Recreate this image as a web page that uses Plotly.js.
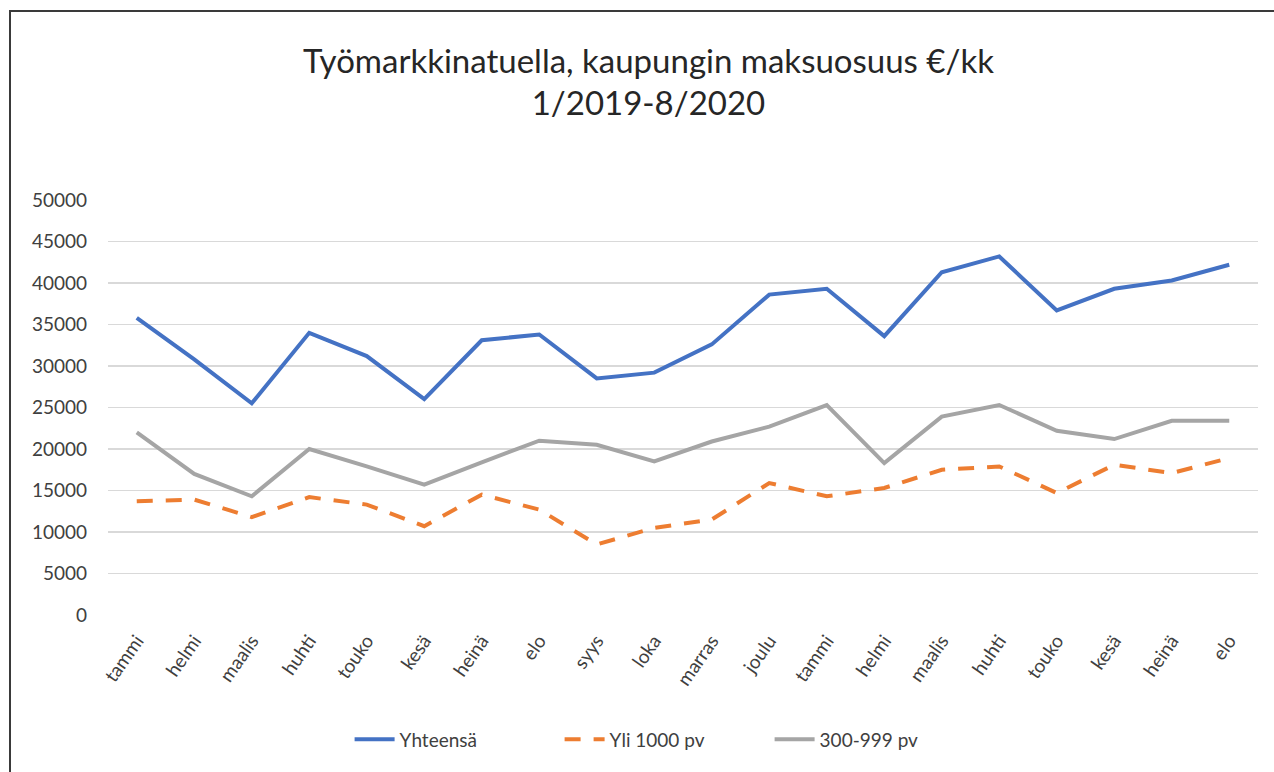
<!DOCTYPE html>
<html>
<head>
<meta charset="utf-8">
<script src="https://cdn.plot.ly/plotly-3.0.1.min.js"></script>
<style>
  html, body { margin: 0; padding: 0; background: #fff; overflow: hidden; }
  #chart { position: absolute; left: 0; top: 0; width: 1274px; height: 772px; }
  #frame {
    position: absolute; left: 9px; top: 10px; width: 1300px; height: 800px;
    border-left: 2px solid #3a3a3a; border-top: 2px solid #3a3a3a;
    pointer-events: none;
  }
</style>
</head>
<body>
<div id="chart"></div>
<div id="frame"></div>
<script>
// ==================== DATA ====================

// month labels, 1/2019 - 8/2020 (names repeat, so ticks are placed by index)
const months = ['tammi', 'helmi', 'maalis', 'huhti', 'touko', 'kesä', 'heinä', 'elo', 'syys', 'loka',
  'marras', 'joulu', 'tammi', 'helmi', 'maalis', 'huhti', 'touko', 'kesä', 'heinä', 'elo'];

const yhteensa = [35800, 30800, 25500, 34000, 31200, 26000, 33100, 33800, 28500, 29200,
  32600, 38600, 39300, 33600, 41300, 43200, 36700, 39300, 40300, 42200];

const yli1000 = [13700, 13900, 11800, 14200, 13300, 10700, 14500, 12700, 8500, 10500,
  11500, 15900, 14300, 15300, 17500, 17900, 14700, 18100, 17100, 18900];

const pv300_999 = [22000, 17000, 14300, 20000, 17900, 15700, 18400, 21000, 20500, 18500,
  20900, 22700, 25300, 18300, 23900, 25300, 22200, 21200, 23400, 23400];

const monthIdx = months.map((m, i) => i);

// ==================== PLOT ====================

const FONT = 'Lato, "Open Sans", sans-serif';

const data = [
  {
    type: 'scatter', mode: 'lines', name: 'Yhteensä',
    x: monthIdx, y: yhteensa,
    line: { color: '#4472C4', width: 4 }
  },
  {
    type: 'scatter', mode: 'lines', name: 'Yli 1000 pv',
    x: monthIdx, y: yli1000,
    line: { color: '#ED7D31', width: 4, dash: '16px,13px' }
  },
  {
    type: 'scatter', mode: 'lines', name: '300-999 pv',
    x: monthIdx, y: pv300_999,
    line: { color: '#A5A5A5', width: 4 }
  }
];

const layout = {
  width: 1274,
  height: 772,
  paper_bgcolor: '#ffffff',
  plot_bgcolor: '#ffffff',
  font: { family: FONT, color: '#404040', size: 19 },
  margin: { l: 108, r: 16, t: 200, b: 157 },
  title: {
    text: 'Työmarkkinatuella, kaupungin maksuosuus €/kk<br>1/2019-8/2020',
    font: { family: FONT, size: 33, color: '#262626' },
    x: 0.509, xanchor: 'center',
    xref: 'container',
    y: 0.906, yanchor: 'middle', yref: 'container'
  },
  xaxis: {
    range: [-0.5, 19.5],
    tickmode: 'array',
    tickvals: monthIdx,
    ticktext: months,
    tickangle: -55,
    ticks: '',
    showgrid: false,
    zeroline: false,
    showline: false,
    ticklabelstandoff: 10,
    tickfont: { family: FONT, size: 19, color: '#404040' }
  },
  yaxis: {
    range: [0, 50000],
    dtick: 5000,
    tick0: 0,
    tickformat: 'd',
    ticks: '',
    showgrid: true,
    gridcolor: '#d9d9d9',
    gridwidth: 1.5,
    zeroline: false,
    showline: false,
    ticklabelstandoff: 20,
    tickfont: { family: FONT, size: 19, color: '#404040' }
  },
  showlegend: true,
  legend: {
    orientation: 'h',
    x: 0.484, xanchor: 'center',
    y: -0.30, yanchor: 'middle',
    font: { family: FONT, size: 19, color: '#404040' },
    itemwidth: 40,
    entrywidth: 155,
    traceorder: 'normal'
  }
};

Plotly.newPlot('chart', data, layout, { displayModeBar: false, staticPlot: true });
</script>
</body>
</html>
